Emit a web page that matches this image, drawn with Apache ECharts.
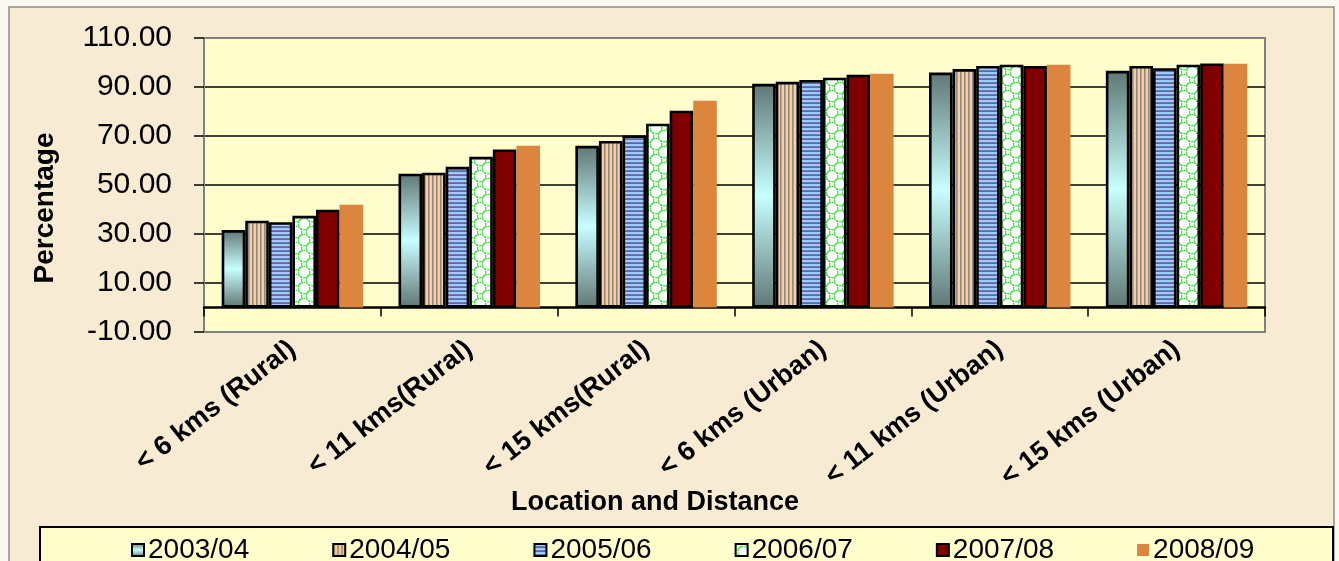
<!DOCTYPE html>
<html>
<head>
<meta charset="utf-8">
<script src="https://cdn.jsdelivr.net/npm/echarts@6/dist/echarts.min.js"></script>
<style>
html,body{margin:0;padding:0;background:#fbf8f2;}
#chart{width:1339px;height:561px;}
</style>
</head>
<body>
<div id="chart"></div>
<script>
// ---- data ----
const categories = ['< 6 kms (Rural)', '< 11 kms(Rural)', '< 15 kms(Rural)', '< 6 kms (Urban)', '< 11 kms (Urban)', '< 15 kms (Urban)'];
const years = ['2003/04', '2004/05', '2005/06', '2006/07', '2007/08', '2008/09'];
const v2003 = [31.6, 54.6, 66.0, 91.3, 95.9, 96.6];
const v2004 = [35.4, 55.0, 68.0, 92.1, 97.3, 98.6];
const v2005 = [34.8, 57.4, 70.2, 92.9, 98.6, 97.7];
const v2006 = [37.4, 61.5, 75.0, 93.8, 99.1, 99.1];
const v2007 = [39.9, 64.5, 80.3, 95.0, 98.6, 99.6];
const v2008 = [41.9, 66.0, 84.4, 95.4, 99.1, 99.5];
const yMin = -10, yMax = 110, yStep = 20;
const yTitle = 'Percentage';
const xTitle = 'Location and Distance';

// ---- patterns ----
function tile(w, h, draw) {
  const c = document.createElement('canvas');
  c.width = w; c.height = h;
  draw(c.getContext('2d'), w, h);
  return c;
}
const vStripe = tile(4, 4, (g) => {
  g.fillStyle = '#ffcc99'; g.fillRect(0, 0, 4, 4);
  g.fillStyle = '#8a8a8a'; g.fillRect(0, 0, 1.6, 4);
});
const hStripe = tile(4, 4, (g) => {
  g.fillStyle = '#99ccff'; g.fillRect(0, 0, 4, 4);
  g.fillStyle = '#66669e'; g.fillRect(0, 2.2, 4, 1.8);
});
const lattice = tile(16, 16, (g) => {
  g.fillStyle = '#ffffff'; g.fillRect(0, 0, 16, 16);
  g.strokeStyle = '#11dd11'; g.lineWidth = 1.2;
  g.setLineDash([1.6, 1]);
  const pts = [[8, 8], [0, 0], [16, 0], [0, 16], [16, 16]];
  pts.forEach(p => { g.beginPath(); g.arc(p[0], p[1], 5.7, 0, Math.PI * 2); g.stroke(); });
});

const gradFill = {
  type: 'linear', x: 0, y: 0, x2: 0, y2: 1,
  colorStops: [
    { offset: 0, color: '#5f7775' },
    { offset: 0.5, color: '#c8ffff' },
    { offset: 1, color: '#5f7775' }
  ]
};
const fills = [
  gradFill,
  { image: vStripe, repeat: 'repeat' },
  { image: hStripe, repeat: 'repeat' },
  { image: lattice, repeat: 'repeat' },
  '#800000',
  '#db853f'
];
const valuesList = [v2003, v2004, v2005, v2006, v2007, v2008];

const FONT = "'Liberation Sans', Arial, sans-serif";

const series = years.map((y, i) => ({
  name: y,
  type: 'bar',
  xAxisIndex: 0,
  yAxisIndex: 0,
  data: valuesList[i],
  barGap: '0%',
  barCategoryGap: '20%',
  itemStyle: {
    color: fills[i],
    borderColor: '#000',
    borderWidth: i === 5 ? 0 : 2.6
  },
  emphasis: { disabled: true }
}));

const chart = echarts.init(document.getElementById('chart'), null, { renderer: 'canvas' });
chart.setOption({
  backgroundColor: '#fbf8f2',
  animation: false,
  textStyle: { fontFamily: FONT },
  grid: {
    left: 204, right: 74, top: 38, bottom: 229,
    show: true, backgroundColor: '#fffdcc', borderColor: '#808080', borderWidth: 2
  },
  graphic: [
    { type: 'rect', z: -10, shape: { x: 9, y: 7, width: 1325, height: 560 },
      style: { fill: '#f8ebd3', stroke: '#8c8c8c', lineWidth: 1.5 } },
    { type: 'rect', z: 1, shape: { x: 40, y: 527, width: 1293, height: 40 },
      style: { fill: '#fffdcc', stroke: '#000', lineWidth: 2 } },
    { type: 'text', z: 5, x: 45, y: 208, rotation: Math.PI / 2,
      style: { text: yTitle, font: "bold 28px " + FONT, fill: '#000', align: 'center', verticalAlign: 'middle' } },
    { type: 'text', z: 5, x: 655, y: 503,
      style: { text: xTitle, font: "bold 27px " + FONT, fill: '#000', align: 'center', verticalAlign: 'middle' } }
  ],
  legend: {
    data: years,
    left: 126, top: 531,
    itemWidth: 12, itemHeight: 12, itemGap: 83,
    icon: 'rect',
    textStyle: { fontSize: 28, color: '#000', fontFamily: FONT, padding: [0, 0, 0, -1] },
    z: 6
  },
  xAxis: [
    {
      type: 'category', data: categories, position: 'bottom',
      axisLine: { show: true, onZero: true, lineStyle: { color: '#000', width: 2.5 } },
      axisTick: { show: true, length: 9, lineStyle: { color: '#000', width: 1.5 } },
      axisLabel: { show: false },
      splitLine: { show: false }
    },
    {
      type: 'category', data: categories, position: 'bottom',
      axisLine: { show: false, onZero: false },
      axisTick: { show: false },
      axisLabel: { show: true, rotate: 38, margin: 14, interval: 0,
        fontSize: 27, fontWeight: 'bold', color: '#000', fontFamily: FONT },
      splitLine: { show: false }
    }
  ],
  yAxis: {
    type: 'value', min: yMin, max: yMax, interval: yStep,
    axisLine: { show: true, onZero: false, lineStyle: { color: '#808080', width: 2 } },
    axisTick: { show: true, length: 10, lineStyle: { color: '#000', width: 1.5 } },
    axisLabel: { formatter: v => v.toFixed(2), fontSize: 30, color: '#000', margin: 32, fontFamily: FONT },
    splitLine: { show: true, lineStyle: { color: ['#808080', '#000', '#000', '#000', '#000', '#000', '#808080'], width: 1.5 } }
  },
  series: series
});
</script>
</body>
</html>
